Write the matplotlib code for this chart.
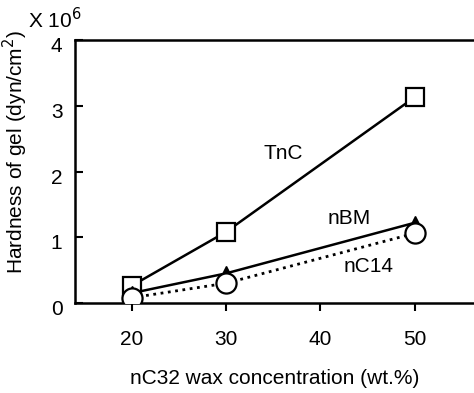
import matplotlib
matplotlib.use("Agg")
import matplotlib.pyplot as plt
from matplotlib.transforms import ScaledTranslation

plt.rcParams['font.family'] = ['Liberation Sans', 'DejaVu Sans']

conc = [20, 30, 50]
tnc = [0.26, 1.08, 3.13]
nbm = [0.15, 0.45, 1.22]
nc14 = [0.08, 0.30, 1.06]
xticks = [20, 30, 40, 50]
yticks = [0, 1, 2, 3, 4]

fig = plt.figure(figsize=(4.74, 3.93), dpi=100)
ax = fig.add_axes([0.158, 0.229, 0.842, 0.669])

ax.plot(conc, tnc, '-', color='black', lw=1.8, marker='s', ms=13.5, mfc='white', mec='black', mew=1.6, zorder=3)
ax.plot(conc, nbm, '-', color='black', lw=1.8, marker='^', ms=10, mfc='black', mec='black', zorder=3)
ax.plot(conc, nc14, ':', color='black', lw=2.0, marker='o', ms=14.5, mfc='white', mec='black', mew=1.6, zorder=4)

ax.set_xlim(14, 56.3)
ax.set_ylim(0, 4)
ax.set_xticks(xticks)
ax.set_yticks(yticks)
ax.tick_params(axis='y', direction='in', length=6, width=1.5, labelsize=15, pad=9)
ax.tick_params(axis='x', direction='out', length=6, width=1.5, labelsize=15, pad=13.5)
for lbl in ax.get_yticklabels():
    lbl.set_va('top')
    lbl.set_transform(lbl.get_transform() + ScaledTranslation(0, 2/72, fig.dpi_scale_trans))
for s in ['left', 'top', 'bottom']:
    ax.spines[s].set_linewidth(1.8)
ax.spines['right'].set_visible(False)

ax.text(36.1, 2.28, 'TnC', fontsize=15, ha='center', va='center')
ax.text(43.1, 1.29, 'nBM', fontsize=15, ha='center', va='center')
ax.text(45.1, 0.55, 'nC14', fontsize=15, ha='center', va='center')

ax.set_ylabel('Hardness of gel (dyn/cm$^2$)', fontsize=15, labelpad=8)
ax.yaxis.set_label_coords(-0.112, 0.574)
ax.set_xlabel('nC32 wax concentration (wt.%)', fontsize=15, labelpad=14.5)
fig.text(0.116, 0.95, 'X 10$^6$', fontsize=15, ha='center', va='center')

fig.savefig('out.png', dpi=100)
